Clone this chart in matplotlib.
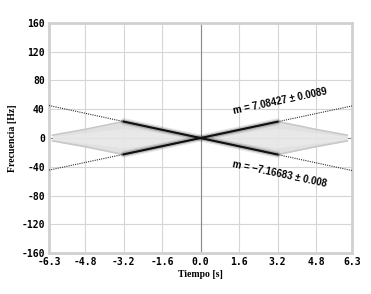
import matplotlib.pyplot as plt

# ticks
xticks = [-6.3, -4.8, -3.2, -1.6, 0.0, 1.6, 3.2, 4.8, 6.3]
yticks = [-160, -120, -80, -40, 0, 40, 80, 120, 160]

# grey spread of the spectrogram (envelope of the two diamonds)
t_env = [-6.15, -4.8, -3.2, -1.6, 0.0, 1.6, 3.2, 4.8, 6.1]
f_env_up = [4, 12, 23, 11.5, 0, 11.5, 23, 12, 4]
f_env_lo = [-4, -12, -23, -11.5, 0, -11.5, -23, -12, -4]

# ridges (dark part)
t_ridge = [-3.2, 0.0, 3.2]
f_ridge_pos = [-22.7, 0.0, 22.7]
f_ridge_neg = [22.9, 0.0, -22.9]

# linear fits
t_fit = [-6.3, 6.3]
f_fit_pos = [-44.6, 44.6]
f_fit_neg = [45.2, -45.2]
lbl_pos = "m = 7.08427 \u00b1 0.0089"
lbl_neg = "m = \u22127.16683 \u00b1 0.008"

fig = plt.figure(figsize=(3.71, 2.94), dpi=100)
ax = fig.add_axes([0.132, 0.139, 0.817, 0.783])

ax.set_xlim(-6.3, 6.3)
ax.set_ylim(-160, 160)
ax.set_xticks(xticks)
ax.set_yticks(yticks)
ax.set_xticklabels(["%.1f" % v for v in xticks], family="DejaVu Sans Mono",
                   fontsize=7, fontweight="bold")
ax.set_yticklabels([str(v) for v in yticks], family="DejaVu Sans Mono",
                   fontsize=7, fontweight="bold")
ax.tick_params(length=0, pad=3)
ax.grid(True, color="#d6d6d6", lw=0.8)
ax.set_axisbelow(True)
for s in ax.spines.values():
    s.set_color("#d0d0d0")
    s.set_linewidth(2)

ax.axhline(0, color="#8a8a8a", lw=0.8, zorder=1)
ax.axvline(0, color="#8a8a8a", lw=0.8, zorder=1)

# grey diamonds
ax.fill_between(t_env, f_env_lo, f_env_up, color="#dcdcdc", alpha=0.85, lw=0, zorder=2)
ax.fill_between(t_env, [v * 0.6 for v in f_env_lo], [v * 0.6 for v in f_env_up],
                color="#ebebeb", alpha=0.7, lw=0, zorder=2)
ax.plot(t_env, f_env_up, color="#c8c8c8", lw=1.2, zorder=2)
ax.plot(t_env, f_env_lo, color="#c8c8c8", lw=1.2, zorder=2)

# fits (dotted)
ax.plot(t_fit, f_fit_pos, color="#303030", lw=0.8, ls=(0, (1, 1)), zorder=3)
ax.plot(t_fit, f_fit_neg, color="#303030", lw=0.8, ls=(0, (1, 1)), zorder=3)

# dark ridges with a soft halo
for lw, a in [(5, 0.12), (3.2, 0.25)]:
    ax.plot(t_ridge, f_ridge_pos, color="#404040", lw=lw, alpha=a, zorder=4,
            solid_capstyle="round")
    ax.plot(t_ridge, f_ridge_neg, color="#404040", lw=lw, alpha=a, zorder=4,
            solid_capstyle="round")
ax.plot(t_ridge, f_ridge_pos, color="#111111", lw=1.5, zorder=5)
ax.plot(t_ridge, f_ridge_neg, color="#111111", lw=1.5, zorder=5)

ax.text(3.3, 51, lbl_pos, rotation=12, ha="center", va="center",
        fontsize=7, fontweight="bold", family="Liberation Sans")
ax.text(3.3, -50, lbl_neg, rotation=-12, ha="center", va="center",
        fontsize=7, fontweight="bold", family="Liberation Sans")

ax.set_xlabel("Tiempo [s]", family="Liberation Serif", fontweight="bold",
              fontsize=7, labelpad=2)
ax.set_ylabel("Frecuencia [Hz]", family="Liberation Serif", fontweight="bold",
              fontsize=7, labelpad=3)

fig.savefig("out.png", dpi=100)
